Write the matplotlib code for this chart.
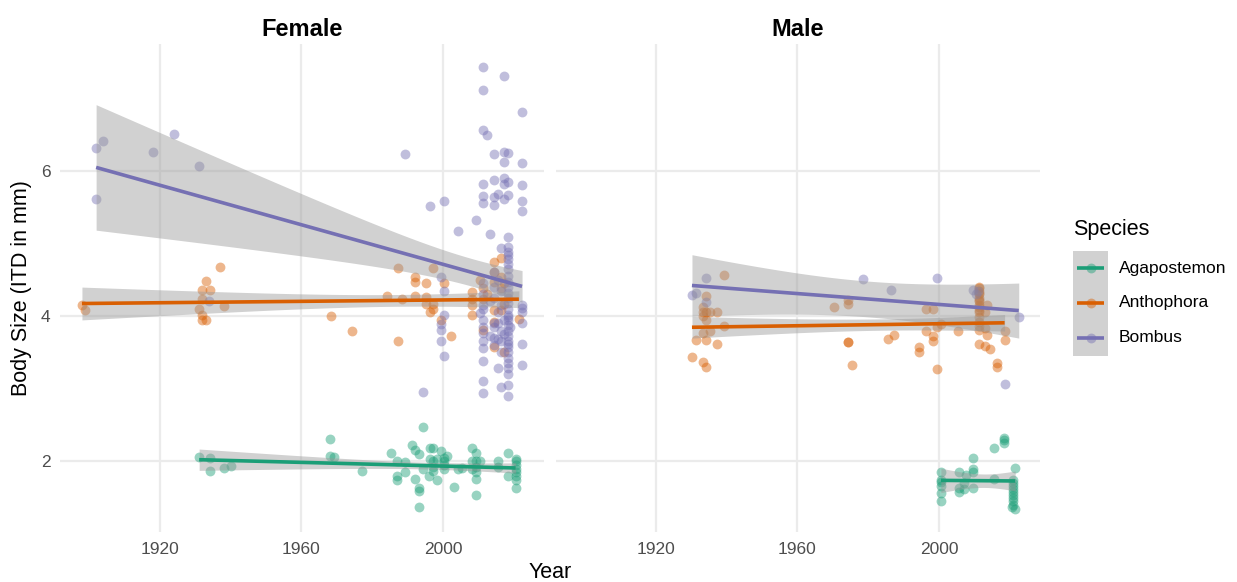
import numpy as np
import matplotlib
matplotlib.use("Agg")
import matplotlib.pyplot as plt
from matplotlib.patches import Rectangle

plt.rcParams['font.family'] = ['Liberation Sans', 'DejaVu Sans']

##### data #####
species = ['Agapostemon', 'Anthophora', 'Bombus']
sexes = ['Female', 'Male']
colors = {'Agapostemon': '#1B9E77', 'Anthophora': '#D95F02', 'Bombus': '#7570B3'}

fem_agap_year = [1931.1, 1934.1, 1934.1, 1938.1, 1940.1, 1968.1, 1968.1, 1969.2, 1977.1, 1985.2,
                 1987.1, 1987.1, 1987.1, 1989.2, 1989.2, 1991.3, 1992.2, 1993.2, 1994.2, 1992.2,
                 1993.2, 1993.2, 1993.2, 1994.2, 1996.0, 1996.3, 1997.2, 1996.3, 1997.2, 1997.2,
                 1997.2, 1998.2, 1998.2, 1999.3, 2000.2, 2000.2, 2000.2, 2000.2, 2001.2, 2003.2,
                 2004.2, 2005.2, 2008.1, 2009.2, 2008.1, 2008.1, 2009.2, 2009.2, 2009.2, 2010.3,
                 2009.2, 2009.2, 2015.4, 2015.4, 2018.4, 2018.4, 2020.5, 2020.5, 2020.5, 2020.5,
                 2020.5, 2020.5, 2020.5, 2020.5]
fem_agap_size = [2.06, 2.05, 1.87, 1.91, 1.94, 2.31, 2.07, 2.06, 1.87, 2.12,
                 2.01, 1.80, 1.74, 1.99, 1.85, 2.22, 2.16, 2.10, 2.47, 1.76,
                 1.64, 1.60, 1.38, 1.89, 1.80, 2.19, 2.19, 2.03, 2.01, 1.92,
                 1.87, 1.75, 2.03, 2.14, 2.05, 2.00, 1.95, 1.90, 2.07, 1.65,
                 1.89, 1.91, 2.19, 2.11, 2.01, 1.89, 2.00, 1.92, 1.85, 2.00,
                 1.54, 1.76, 2.01, 1.93, 2.12, 1.80, 2.04, 2.00, 1.95, 1.90,
                 1.85, 1.80, 1.75, 1.63]

fem_anth_year = [1898.0, 1899.0, 1937.1, 1933.1, 1932.0, 1934.1, 1932.0, 1931.1, 1932.0, 1932.0,
                 1933.1, 1938.1, 1968.2, 1974.2, 1987.2, 1984.2, 1988.3, 1987.2, 1992.2, 1992.2,
                 1995.3, 1997.2, 1992.2, 1995.3, 1995.3, 1997.2, 1996.3, 1997.2, 2000.2, 1999.3,
                 2002.3, 2008.2, 2008.2, 2008.2, 2008.2, 2011.2, 2014.3, 2014.3, 2016.3, 2014.3,
                 2016.3, 2014.3, 2014.3, 2016.3, 2017.3, 2014.3, 2017.3, 2021.4, 2011.2, 2011.2,
                 2016.3, 2012.4, 2017.3, 2010.4]
fem_anth_size = [4.15, 4.08, 4.67, 4.48, 4.36, 4.36, 4.23, 4.09, 4.01, 3.95,
                 3.94, 4.14, 4.00, 3.80, 3.66, 4.28, 4.23, 4.66, 4.53, 4.47,
                 4.45, 4.66, 4.27, 4.26, 4.17, 4.17, 4.06, 4.09, 4.46, 3.94,
                 3.73, 4.33, 4.24, 4.15, 4.01, 3.81, 4.61, 4.74, 4.80, 4.47,
                 4.53, 4.08, 3.92, 4.08, 4.17, 3.57, 3.51, 3.96, 4.38, 4.24,
                 4.38, 4.30, 4.45, 4.50]

fem_bomb_year = [1902.0, 1904.0, 1924.0, 1918.0, 1931.0, 1902.0, 1934.0,
                 2011.2, 2017.3, 2011.2, 2022.3, 2011.2, 2012.4, 1989.3, 2014.3, 2017.3, 2018.4,
                 2017.3, 2022.3, 2011.2, 2014.3, 2017.3, 2017.3, 2018.4, 2022.3, 2018.4, 2011.2,
                 2014.3, 2015.4, 2017.3, 2022.3, 2011.2, 2014.3, 1996.3, 2000.2, 2022.3, 2009.4,
                 2004.3, 2013.2, 2018.4, 2016.3,
                 2018.4, 2018.4, 2018.4, 2018.4, 2018.4, 2018.4, 2018.4, 2018.4, 2018.4, 2018.4,
                 2018.4, 2018.4, 2018.4, 2018.4, 2018.4, 2018.4, 2018.4, 2018.4, 2018.4, 2018.4,
                 2018.4, 2018.4, 2018.4, 2018.4, 2018.4, 2018.4, 2018.4,
                 1999.3, 2000.2, 2000.2, 1999.3, 1999.3, 1999.3, 2000.2, 1994.3,
                 2010.4, 2011.2, 2011.2, 2011.2, 2011.2, 2011.2, 2011.2, 2013.2, 2015.4, 2014.3,
                 2016.3, 2015.4, 2016.3, 2022.3, 2022.3, 2022.3, 2022.3,
                 2011.2, 2011.2, 2014.3, 2014.3, 2015.4, 2016.3, 2013.2, 2014.3, 2016.3,
                 2011.2, 2011.2, 2011.2, 2011.2, 2014.3, 2014.3, 2014.3, 2015.4, 2015.4, 2016.3,
                 2016.3, 2017.3, 2017.3, 2022.3, 2022.3, 2018.4, 2018.4, 2019.0]
fem_bomb_size = [6.31, 6.40, 6.50, 6.26, 6.06, 5.61, 4.20,
                 7.43, 7.30, 7.11, 6.80, 6.56, 6.49, 6.23, 6.23, 6.25, 6.24,
                 6.12, 6.11, 5.81, 5.87, 5.90, 5.81, 5.84, 5.80, 5.67, 5.65,
                 5.64, 5.68, 5.61, 5.58, 5.55, 5.53, 5.51, 5.58, 5.45, 5.32,
                 5.17, 5.13, 5.09, 4.94,
                 4.95, 4.88, 4.84, 4.78, 4.71, 4.64, 4.55, 4.47, 4.40, 4.32,
                 4.25, 4.18, 4.10, 4.02, 3.95, 3.88, 3.80, 3.72, 3.65, 3.58,
                 3.50, 3.42, 3.35, 3.29, 3.20, 3.05, 2.90,
                 4.53, 4.35, 4.02, 3.89, 3.81, 3.65, 3.45, 2.95,
                 4.04, 3.77, 3.66, 3.56, 3.38, 3.10, 2.94, 3.73, 3.68, 3.91,
                 3.51, 3.29, 3.02, 3.62, 3.32, 4.11, 4.15,
                 4.45, 4.30, 4.40, 4.25, 4.50, 4.35, 4.20, 4.60, 4.15,
                 4.10, 3.95, 3.85, 4.15, 3.70, 3.60, 3.85, 3.90, 4.05, 3.80,
                 3.65, 3.95, 3.75, 4.05, 3.90, 3.98, 3.62, 3.85]

male_agap_year = [2000.5, 2000.5, 2000.5, 2000.5, 2000.5, 2000.5, 2005.5, 2005.5, 2005.5, 2007.5,
                  2009.5, 2009.5, 2009.5, 2009.5, 2015.6, 2015.6, 2018.4, 2018.4, 2018.4, 2021.5,
                  2021.0, 2021.0, 2021.0, 2021.0, 2021.0, 2021.0, 2021.0, 2021.0, 2021.0, 2020.5,
                  2021.5, 2007.0, 2007.0]
male_agap_size = [1.85, 1.75, 1.66, 1.56, 1.46, 1.72, 1.85, 1.64, 1.58, 1.81,
                  2.05, 1.89, 1.85, 1.64, 2.18, 1.76, 2.32, 2.29, 2.26, 1.91,
                  1.75, 1.70, 1.66, 1.62, 1.58, 1.54, 1.50, 1.45, 1.40, 1.37,
                  1.34, 1.70, 1.62]

male_anth_year = [1939.3, 1934.2, 1933.2, 1933.2, 1934.2, 1935.3, 1937.2, 1933.2, 1934.2, 1933.2,
                  1935.3, 1939.3, 1931.3, 1934.2, 1937.2, 1930.2, 1933.2, 1934.2,
                  1970.4, 1974.3, 1974.3, 1974.3, 1974.3, 1975.4, 1985.5, 1987.4, 1994.4, 1994.4,
                  1996.3, 1998.3, 1996.3, 1998.3, 1998.3, 1999.5, 1999.5, 2000.5, 2005.4,
                  2011.3, 2011.3, 2011.3, 2011.3, 2011.3, 2011.3, 2011.3, 2011.3, 2011.3, 2011.3,
                  2011.3, 2013.5, 2013.5, 2011.3, 2012.9, 2014.5, 2016.4, 2016.4, 2018.5, 2018.5,
                  2012.9, 2011.3, 2011.3, 2011.3, 2011.3, 2011.3, 2012.9]
male_anth_size = [4.56, 4.28, 4.13, 4.06, 4.06, 4.06, 4.05, 4.00, 3.95, 3.77,
                  3.80, 3.86, 3.67, 3.67, 3.62, 3.43, 3.37, 3.30,
                  4.13, 4.22, 4.17, 3.64, 3.64, 3.33, 3.69, 3.74, 3.57, 3.51,
                  4.10, 4.10, 3.79, 3.72, 3.65, 3.27, 3.85, 3.89, 3.80,
                  4.40, 4.35, 4.30, 4.25, 4.20, 4.12, 4.05, 3.98, 3.92, 3.86,
                  3.81, 4.15, 3.74, 3.61, 3.59, 3.54, 3.35, 3.30, 3.80, 3.67,
                  3.83, 4.38, 4.32, 4.22, 4.15, 4.08, 4.05]

male_bomb_year = [1934.2, 1930.2, 1931.3, 1934.2, 1978.4, 1986.4, 1999.5, 2009.5, 2010.4, 2022.5,
                  2018.5, 2011.0]
male_bomb_size = [4.52, 4.29, 4.32, 4.19, 4.51, 4.36, 4.52, 4.36, 4.30, 3.99,
                  3.07, 4.35]

groups = {
    ('Female', 'Agapostemon'): (fem_agap_year, fem_agap_size),
    ('Female', 'Anthophora'): (fem_anth_year, fem_anth_size),
    ('Female', 'Bombus'): (fem_bomb_year, fem_bomb_size),
    ('Male', 'Agapostemon'): (male_agap_year, male_agap_size),
    ('Male', 'Anthophora'): (male_anth_year, male_anth_size),
    ('Male', 'Bombus'): (male_bomb_year, male_bomb_size),
}


def lm_band(x, y, n_grid=80):
  # straight line fit with 95% confidence band, like geom_smooth(method='lm')
  x = np.asarray(x, float)
  y = np.asarray(y, float)
  n = len(x)
  slope, inter = np.polyfit(x, y, 1)
  resid = y - (inter + slope * x)
  s = np.sqrt(np.sum(resid ** 2) / (n - 2))
  sxx = np.sum((x - x.mean()) ** 2)
  t = 1.96 + 2.4 / (n - 2)
  xg = np.linspace(x.min(), x.max(), n_grid)
  yg = inter + slope * xg
  se = s * np.sqrt(1.0 / n + (xg - x.mean()) ** 2 / sxx)
  return xg, yg, yg - t * se, yg + t * se


W, H = 1237, 582
fig = plt.figure(figsize=(W / 100, H / 100), dpi=100)
grid_col = '#EBEBEB'
band_col = '#999999'

axes = {}
for k, sex in enumerate(sexes):
  left = (60 + 496 * k) / W
  ax = fig.add_axes([left, (H - 532) / H, 484 / W, 488 / H])
  axes[sex] = ax
  for sp in species:
    yr, sz = groups[(sex, sp)]
    ax.scatter(yr, sz, s=50, color=colors[sp], alpha=0.45, linewidths=0, zorder=2)
  for sp in species:
    yr, sz = groups[(sex, sp)]
    xg, yg, lo, hi = lm_band(yr, sz)
    ax.fill_between(xg, lo, hi, color=band_col, alpha=0.45, linewidth=0, zorder=3)
    ax.plot(xg, yg, color=colors[sp], lw=2.6, zorder=4, solid_capstyle='butt')

  ax.set_xlim(1891.8, 2028.5)
  ax.set_ylim(1.03, 7.74)
  ax.set_xticks([1920, 1960, 2000])
  ax.set_yticks([2, 4, 6])
  ax.grid(True, color=grid_col, lw=1.6, zorder=0)
  ax.set_axisbelow(True)
  for s in ax.spines.values():
    s.set_visible(False)
  ax.tick_params(length=0, labelsize=12.5, labelcolor='#4D4D4D', pad=7)
  if k == 1:
    ax.set_yticklabels([])
  ax.set_title(sex, fontsize=17, fontweight='bold', pad=6)

fig.text(550 / W, 1 - 572 / H, 'Year', fontsize=15.5, ha='center', va='center')
fig.text(22 / W, 1 - 288 / H, 'Body Size (ITD in mm)', fontsize=15.5, ha='center',
         va='center', rotation=90)

# legend drawn in pixel space
leg = fig.add_axes([0, 0, 1, 1])
leg.set_xlim(0, W)
leg.set_ylim(H, 0)
leg.axis('off')
leg.text(1073, 230, 'Species', fontsize=15.5, ha='left', va='center')
for i, sp in enumerate(species):
  yc = 268 + 35 * i
  leg.add_patch(Rectangle((1073, yc - 17.5), 35, 35, facecolor=band_col, alpha=0.45, lw=0))
  leg.plot([1077, 1104], [yc, yc], color=colors[sp], lw=2.6, solid_capstyle='butt')
  leg.scatter([1090.5], [yc], s=50, color=colors[sp], alpha=0.45, linewidths=0)
  leg.text(1119, yc, sp, fontsize=12.5, ha='left', va='center')

fig.savefig('out.png', dpi=100)
